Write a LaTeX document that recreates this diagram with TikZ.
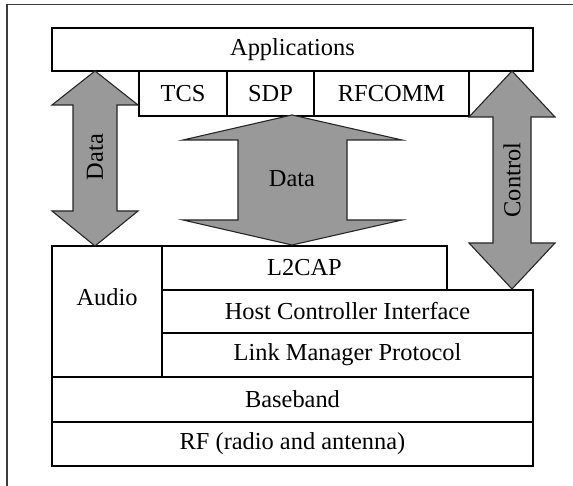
\documentclass[tikz,border=0pt]{standalone}
\usepackage{fontspec}
\setmainfont{Liberation Serif}
\definecolor{arrowgray}{RGB}{153,153,153}
\definecolor{framegray}{RGB}{60,60,60}
\tikzset{
  layer/.style={draw=black, line width=1.1pt, fill=white, inner sep=0pt, outer sep=0pt, anchor=north west,
    font=\fontsize{24.4}{28}\selectfont},
  fatarrow/.style={draw=black!85, line width=1.1pt, fill=arrowgray, line join=miter},
  lbl/.style={font=\fontsize{24.4}{28}\selectfont, inner sep=0pt},
}
\begin{document}
\begin{tikzpicture}[x=1pt,y=-1pt]
\useasboundingbox (0,0) rectangle (573,486);
% outer frame
\draw[framegray, line width=1.6pt] (7,486) -- (7,4.5) -- (573,4.5);
% layers
\node[layer, minimum width=481pt, minimum height=43pt] (app) at (52,28) {Applications};
\node[layer, minimum width=88pt, minimum height=45pt] (tcs) at (139,71) {TCS};
\node[layer, minimum width=87pt, minimum height=45pt] (sdp) at (227,71) {SDP};
\node[layer, minimum width=155pt, minimum height=45pt] (rfcomm) at (314,71) {RFCOMM};
\node[layer, minimum width=285pt, minimum height=44pt] (l2cap) at (162,246) {L2CAP};
\node[layer, minimum width=110pt, minimum height=131pt] (audio) at (52,246) {};
\node[lbl] (audiotxt) at (107,297) {Audio};
\node[layer, minimum width=371pt, minimum height=43pt] (hci) at (162,290) {Host Controller Interface};
\node[layer, minimum width=371pt, minimum height=44pt] (lmp) at (162,333) {Link Manager Protocol};
\node[layer, minimum width=481pt, minimum height=45pt] (bb) at (52,377) {Baseband};
\node[layer, minimum width=481pt, minimum height=44pt] (rf) at (52,422) {RF (radio and antenna)};
% left Data arrow
\draw[fatarrow] (95,71) -- (138,105) -- (117,105) -- (117,211) -- (138,211) -- (95,246)
  -- (52,211) -- (73,211) -- (73,105) -- (52,105) -- cycle;
\node[lbl, rotate=90] (dataL) at (95,157) {Data};
% central Data arrow
\draw[fatarrow] (292,115) -- (402,140) -- (347,140) -- (347,220) -- (402,220) -- (292,245)
  -- (183,220) -- (238,220) -- (238,140) -- (183,140) -- cycle;
\node[lbl] (dataC) at (292,179) {Data};
% Control arrow
\draw[fatarrow] (512,71) -- (555,117) -- (531,117) -- (531,243) -- (555,243) -- (512,289)
  -- (469,243) -- (493,243) -- (493,117) -- (469,117) -- cycle;
\node[lbl, rotate=90] (ctrl) at (512,180) {Control};
\end{tikzpicture}
\end{document}
